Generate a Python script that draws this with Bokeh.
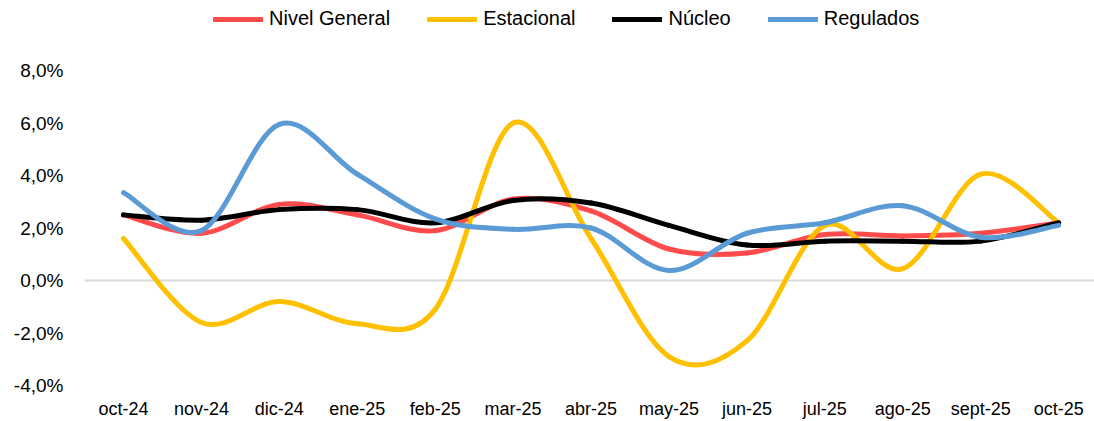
import numpy as np
from bokeh.plotting import figure
from bokeh.models import (Range1d, FixedTicker, Span, Legend, LegendItem,
                          ColumnDataSource)
from bokeh.embed import file_html
from bokeh.resources import INLINE

# ---- data ----
months = ["oct-24", "nov-24", "dic-24", "ene-25", "feb-25", "mar-25", "abr-25",
          "may-25", "jun-25", "jul-25", "ago-25", "sept-25", "oct-25"]
nivel_general = [2.5, 1.8, 2.9, 2.5, 1.9, 3.1, 2.65, 1.2, 1.05, 1.75, 1.7, 1.8, 2.2]
estacional = [1.6, -1.6, -0.8, -1.65, -1.1, 6.0, 1.6, -2.9, -2.3, 2.1, 0.45, 4.05, 2.2]
nucleo = [2.5, 2.3, 2.7, 2.7, 2.2, 3.05, 2.95, 2.1, 1.35, 1.5, 1.5, 1.5, 2.2]
regulados = [3.35, 1.9, 5.95, 4.05, 2.35, 1.95, 2.0, 0.38, 1.8, 2.2, 2.85, 1.65, 2.1]

series_names = ["Nivel General", "Estacional", "Núcleo", "Regulados"]
series_values = [nivel_general, estacional, nucleo, regulados]
series_colors = ["#FF4B4B", "#FFC000", "#000000", "#5B9BD5"]

y_ticks = [-4, -2, 0, 2, 4, 6, 8]
y_tick_labels = ["-4,0%", "-2,0%", "0,0%", "2,0%", "4,0%", "6,0%", "8,0%"]

FONT = "Liberation Sans"

# frame spans the full height above the x labels; the space above 8% holds the legend
p = figure(width=1094, height=421, output_backend="svg", toolbar_location=None,
           x_range=Range1d(-0.5, 12.46), y_range=Range1d(-4, 10.667),
           min_border_left=84, min_border_right=0, min_border_top=0,
           min_border_bottom=36)
p.outline_line_color = None
p.xgrid.visible = False
p.ygrid.visible = False
p.background_fill_color = "white"
p.border_fill_color = "white"

# zero line
p.add_layout(Span(location=0, dimension="width", line_color="#D9D9D9",
                  line_width=2, level="underlay"))


def smooth_segments(xs, ys):
    """Catmull-Rom style bezier control points (like Excel smoothed lines)."""
    xs = np.asarray(xs, float)
    ys = np.asarray(ys, float)
    xp = np.concatenate([[xs[0]], xs, [xs[-1]]])
    yp = np.concatenate([[ys[0]], ys, [ys[-1]]])
    tx = (xp[2:] - xp[:-2]) / 6.0
    ty = (yp[2:] - yp[:-2]) / 6.0
    return dict(x0=xs[:-1], y0=ys[:-1], x1=xs[1:], y1=ys[1:],
                cx0=xs[:-1] + tx[:-1], cy0=ys[:-1] + ty[:-1],
                cx1=xs[1:] - tx[1:], cy1=ys[1:] - ty[1:])


xidx = list(range(len(months)))
items = []
for name, vals, col in zip(series_names, series_values, series_colors):
    src = ColumnDataSource(smooth_segments(xidx, vals))
    r = p.bezier(x0="x0", y0="y0", x1="x1", y1="y1", cx0="cx0", cy0="cy0",
                 cx1="cx1", cy1="cy1", source=src, line_color=col, line_width=5,
                 line_cap="round", line_join="round")
    items.append(LegendItem(label=name, renderers=[r]))

legend = Legend(items=items, orientation="horizontal", location=(129, 355),
                glyph_width=50, glyph_height=20, label_height=20,
                label_standoff=6, spacing=37, padding=0, margin=0,
                border_line_color=None, background_fill_alpha=0,
                label_text_font=FONT, label_text_font_size="20px",
                label_text_color="#000000")
p.add_layout(legend, "center")

# axes
p.xaxis.ticker = FixedTicker(ticks=xidx)
p.xaxis.major_label_overrides = {i: m for i, m in zip(xidx, months)}
p.xaxis.axis_line_color = None
p.xaxis.major_tick_line_color = None
p.xaxis.minor_tick_line_color = None
p.xaxis.major_tick_out = 0
p.xaxis.major_label_standoff = 13
p.xaxis.major_label_text_font = FONT
p.xaxis.major_label_text_font_size = "18px"
p.xaxis.major_label_text_color = "#000000"

p.yaxis.ticker = FixedTicker(ticks=y_ticks)
p.yaxis.major_label_overrides = {t: l for t, l in zip(y_ticks, y_tick_labels)}
p.yaxis.axis_line_color = None
p.yaxis.major_tick_line_color = None
p.yaxis.minor_tick_line_color = None
p.yaxis.major_tick_out = 0
p.yaxis.major_label_standoff = 21
p.yaxis.major_label_text_font = FONT
p.yaxis.major_label_text_font_size = "19px"
p.yaxis.major_label_text_color = "#000000"

open("out.html", "w").write(file_html(p, INLINE))
